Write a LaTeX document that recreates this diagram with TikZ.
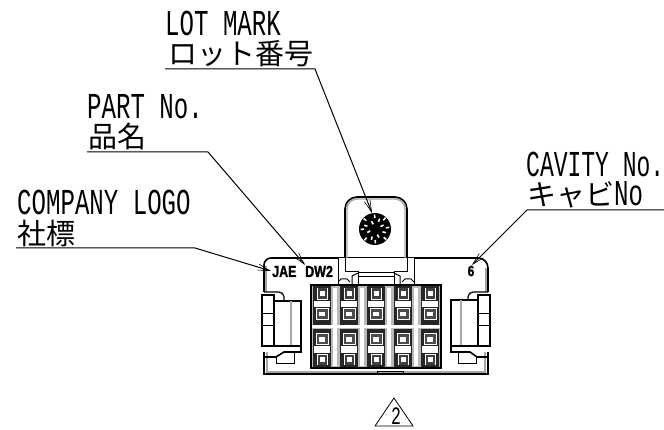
\documentclass[tikz,border=0pt]{standalone}
\usepackage{fontspec}
\usetikzlibrary{arrows.meta,calc}
\newfontfamily\latf[FakeStretch=0.66]{Liberation Mono}
\newfontfamily\cavf[FakeStretch=0.63]{Liberation Mono}
\newfontfamily\cjkf{Noto Sans CJK JP}
\newfontfamily\markf[FakeStretch=0.78,FakeBold=1.5]{Liberation Sans Bold}
\tikzset{
 x=1pt,y=-1pt,
 lat/.style={anchor=base west,inner sep=0pt,font=\latf\fontsize{36.5}{36.5}\selectfont},
 jp/.style={anchor=base west,inner sep=0pt,font=\cjkf\fontsize{29}{29}\selectfont},
 leader/.style={line width=1pt,-{Straight Barb[length=12pt,width=6pt,line width=.6pt]}},
 wall/.style={line width=1.6pt,black},
 thin/.style={line width=1pt,black},
 gw/.style={line width=1.4pt,gray!70},
}
\newcommand{\uppercell}[1]{%
 \begin{scope}[shift={(#1,0)}]
  \fill[black!85] (-9,286) rectangle (9,325);
  \fill[white] (-5.5,288) rectangle (5.5,300);
  \fill[black!75] (-4.5,288.5) rectangle (4.5,299.5);
  \fill[white] (-2.5,291) rectangle (2.5,296);
  \fill[white] (-8,301) rectangle (8,307.5);
  \fill[white] (-6.5,308.5) rectangle (6.5,320);
  \fill[black!70] (-5.5,309.5) rectangle (5.5,319);
  \fill[white] (-3,312) rectangle (3,316.5);
 \end{scope}}
\newcommand{\lowercell}[1]{%
 \begin{scope}[shift={(#1,0)}]
  \fill[black!85] (-9,329) rectangle (9,367);
  \fill[white] (-6.5,333.5) rectangle (6.5,345);
  \fill[black!70] (-5.5,334.5) rectangle (5.5,344);
  \fill[white] (-3,337) rectangle (3,341.5);
  \fill[white] (-8,346) rectangle (8,352.5);
  \fill[white] (-5.5,353.5) rectangle (5.5,365);
  \fill[black!75] (-4.5,354.5) rectangle (4.5,364.5);
  \fill[white] (-2.5,357) rectangle (2.5,362);
 \end{scope}}
\begin{document}
\begin{tikzpicture}
\useasboundingbox (0,0) rectangle (664,430);
\fill[white] (0,0) rectangle (664,430);
% labels
\node[lat] (lot) at (165,36) {LOT MARK};
\node[jp] (lotj) at (168,65) {ロット番号};
\node[lat] (part) at (87,119) {PART No.};
\node[jp] (partj) at (88,148) {品名};
\node[lat] (comp) at (17,215) {COMPANY LOGO};
\node[jp] (compj) at (17,245) {社標};
\node[lat,font=\cavf\fontsize{36.5}{36.5}\selectfont] (cav) at (526,177) {CAVITY No.};
\node[jp] (cavj) at (527,206) {キャビ};
\node[lat] (cavn) at (614,206) {No};
% body
\draw[wall] (264,292) -- (264,265) arc[start angle=180,end angle=270,radius=7] -- (338,258);
\draw[wall] (414,258) -- (478,258) arc[start angle=270,end angle=360,radius=10] -- (488,292);
\draw[gw] (266,292) -- (266,266); \draw[gw] (486,292) -- (486,268);
\draw[thin] (338,258) -- (414,258);
\draw[gw] (267,352)--(267,372) -- (485,372) -- (485,352);
\draw[wall] (264,352) -- (264,374) -- (488,374) -- (488,352);
\draw[thin] (377,374) -- (377,371) -- (403,371) -- (403,374);
% lot tab
\draw[gw] (347,258) -- (347,209) arc[start angle=180,end angle=270,radius=10] -- (395,199) arc[start angle=270,end angle=360,radius=10] -- (405,258);
\draw[wall] (345,258) -- (345,209) arc[start angle=180,end angle=270,radius=12] -- (395,197) arc[start angle=270,end angle=360,radius=12] -- (407,258);
\fill[black] (375,229) circle[radius=16];
\foreach \a/\r in {10/11,50/12,95/11,140/12,185/11,230/12,275/11,320/12,30/6,120/5,210/5,300/6,70/8,165/8,255/8,345/8}{
 \fill[white,rotate around={\a:(375,229)}] ($(375,229)+(\r,0)$) rectangle +(3.4,1.6);
}
% tab root
\draw[thin] (338,258) -- (338,284);
\draw[thin] (414,258) -- (414,284);
\draw[thin] (345,258) -- (345,272) -- (358,272) -- (358,284);
\draw[thin] (407,258) -- (407,272) -- (394,272) -- (394,284);
\draw[thin] (358,273) -- (394,273); \draw[thin] (358,277) -- (394,277);
\draw[thin] (338,282) -- (341,279) -- (347,279) -- (350,282);
\draw[thin] (402,282) -- (405,279) -- (411,279) -- (414,282);
\draw[thin] (352,284) -- (352,276) -- (358,273);
\draw[thin] (400,284) -- (400,276) -- (394,273);
% grid
\fill[gray!55] (311,285) rectangle (441,368);
\draw[line width=1.6pt,black] (311,285) rectangle (441,368);
\foreach \x in {322,349,376,403,430}{\uppercell{\x}\lowercell{\x}}
\foreach \x in {335.5,362.5,389.5,416.5}{\fill[white] (\x-3,288) rectangle (\x+1.5,366);}
\fill[white] (312,325) rectangle (440,328.5);
% left latch
\draw[thin,line width=1.2pt] (264,292) -- (279,292) arc[start angle=-90,end angle=0,radius=5] -- (284,301);
\draw[wall] (262,295) rectangle (274,346);
\draw[thin] (262,314) -- (274,314); \draw[thin] (262,326) -- (274,326);
\draw[wall] (274,301) -- (301,301) -- (301,352) -- (284,352) -- (276,357) -- (264,357);
\draw[gw] (291,301) -- (291,346);
\draw[wall] (262,346) -- (301,346);
\draw[thin] (276,357) -- (276,363) -- (294,363) -- (294,352);
% right latch
\draw[thin,line width=1.2pt] (488,292) -- (473,292) arc[start angle=270,end angle=180,radius=5] -- (468,301);
\draw[wall] (478,295) rectangle (490,346);
\draw[thin] (478,314) -- (490,314); \draw[thin] (478,326) -- (490,326);
\draw[wall] (478,300) -- (451,300) -- (451,352) -- (470,352) -- (477,357) -- (488,357);
\draw[gw] (461,300) -- (461,346);
\draw[wall] (451,346) -- (490,346);
\draw[thin] (458,352) -- (458,363) -- (476,363) -- (476,357);
% marks
\node[anchor=base west,inner sep=0pt,font=\markf\fontsize{16}{16}\selectfont] (jae) at (272,277) {JAE};
\node[anchor=base west,inner sep=0pt,font=\markf\fontsize{16}{16}\selectfont] (dw) at (305,277) {DW2};
\node[inner sep=0pt,font=\markf\fontsize{15}{15}\selectfont] (cavmark) at (471,271) {6};
% leaders
\coordinate (lotA) at (165,69); \coordinate (lotB) at (315,69); \coordinate (lotT) at (372,213);
\coordinate (partA) at (87,152); \coordinate (partB) at (208,152); \coordinate (partT) at (305,265);
\coordinate (compA) at (16,248); \coordinate (compB) at (195,248); \coordinate (compT) at (271,271);
\coordinate (cavA) at (664,210); \coordinate (cavB) at (527,210); \coordinate (cavT) at (472,265);
\draw[leader] (lotA) -- (lotB) -- (lotT);
\draw[leader] (partA) -- (partB) -- (partT);
\draw[leader] (compA) -- (compB) -- (compT);
\draw[leader] (cavA) -- (cavB) -- (cavT);
% revision triangle
\node[inner sep=0pt,font=\latf\fontsize{25}{25}\selectfont] (rev) at (396,416) {2};
\draw[line width=.8pt] (375,426) -- (394,398) -- (413,426) -- cycle;
\end{tikzpicture}
\end{document}
